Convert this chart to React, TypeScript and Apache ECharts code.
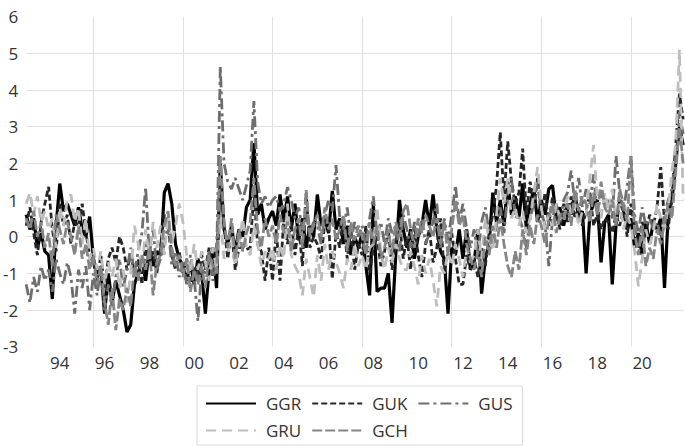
import React, { useEffect, useRef } from "react";
import * as echarts from "echarts";

// Two-month observations starting January 1993
const START_YEAR = 1993;
const STEP = 1 / 6;

const GGR = [
  0.6, 0.2, 0.5, -0.3, 0.1, -0.4,
  -0.5, -1.7, 0.3, 1.45, 0.7, 0.9,
  0.6, 0.3, 0.8, 0.2, 0.0, 0.55,
  -0.6, -1.0, -0.9, -2.1, -1.0, -1.8,
  -1.2, -1.6, -2.0, -2.6, -2.4, -1.3,
  -1.0, -0.6, -1.2, -0.3, -0.8, -0.4,
  -0.5, 1.2, 1.45, 0.9, -0.2, -0.6,
  -0.8, -1.2, -0.7, -1.3, -0.6, -1.0,
  -2.1, -0.9, -0.3, -1.4, 2.0, 0.2,
  -0.2, 0.3, -0.4, 0.2, 0.0, 0.8,
  1.0, 2.55, 0.6, 0.9, 0.2, 0.5,
  0.7, 0.3, 1.15, 0.4, 1.1, 0.2,
  0.9, -0.1, 0.5, -0.3, 0.3, 0.0,
  1.15, 0.3, 0.5, 0.1, 1.25, 0.2,
  0.5, -0.2, 0.3, -0.5, 0.0, -0.3,
  0.1, -0.8, -1.6, 0.9, -1.5, -1.4,
  -1.4, -1.0, -2.35, -0.5, 1.0, 0.2,
  -0.3, 0.2, -0.6, 0.0, 0.3, 1.0,
  0.3, 1.15, 0.2, -0.4, -0.6, -2.1,
  -0.3, -0.5, 0.2, -0.6, 0.2, -0.9,
  -0.7, 0.2, -1.55, -0.6, -0.2, 1.2,
  0.4, 1.0, 0.3, 1.5, 0.6, 1.1,
  0.5, 1.45, 0.2, 0.9, 1.3, 0.4,
  1.0, 0.6, 1.3, 1.4, 0.5, 0.8,
  0.3, 0.9, 0.6, 1.2, 0.5, 0.7,
  -1.0, 0.6, 0.9, 1.0, -0.7, 0.4,
  0.6, -1.3, 0.3, 1.0, 0.7, 0.2,
  0.5, -0.3, 0.1, -0.5, 0.4, -0.2,
  0.4, 0.2, 0.5, -1.4, 0.6, 1.0,
  2.0, 3.0, 2.5,
];

const GUK = [
  0.3, 0.8, 0.1, -0.5, 0.4, 0.9,
  1.36, 0.2, -0.4, 0.9, 0.3, 0.6,
  -0.2, 0.4, 0.3, 0.9, 0.1, -0.5,
  -0.7, -1.2, -0.5, -1.4, -0.6, -0.3,
  -0.7, 0.0, -0.3, -0.9, -0.5, -1.0,
  -0.6, -1.3, -0.2, -0.8, -0.4, -1.0,
  -0.3, 0.6, 0.3, -0.5, -0.9, -0.4,
  -1.0, -0.6, -1.4, -0.8, -1.2, -0.5,
  -0.9, -0.3, -1.1, -0.4, 1.6, 0.3,
  -0.6, 0.2, -0.9, -0.3, -0.3, -0.35,
  -0.3, 1.2, -0.2, -0.4, -1.2, -0.3,
  -1.2, 0.2, -1.2, 0.5, -0.2, 0.4,
  -0.5, 0.3, -0.8, 1.2, -0.3, 0.0,
  -0.2, -0.6, 0.4, 0.3, -1.15, 0.1,
  -0.3, 0.5, -0.6, 0.2, -0.9, -0.2,
  -0.5, 0.3, -1.0, -0.3, 0.0, -0.8,
  -0.4, 0.2, -0.9, -0.1, 0.4, -0.6,
  0.0, -0.9, 0.3, -0.5, -1.1, -0.2,
  0.2, -0.7, -0.3, 0.5, -1.0, -0.4,
  0.1, -0.6, -1.3, -1.3, -0.5, -0.9,
  -0.6, -1.1, -0.3, -0.8, 0.1, 0.6,
  1.4, 2.85, 1.0, 2.6, 1.5, 0.9,
  1.2, 2.4, 0.6, 1.5, 0.8, 1.6,
  0.5, 1.2, 0.3, 1.1, 0.6, 0.2,
  0.9, 0.4, 1.1, 0.5, 0.8, 0.3,
  0.7, 1.2, 0.3, 0.6, 0.2, 0.5,
  0.4, 0.1, 0.6, 0.3, 0.8, 0.0,
  0.9, 0.2, -0.3, 0.4, 0.1, 0.6,
  0.3, 0.8, 1.9, 0.4, 0.2, 1.2,
  2.5, 3.9, 3.2,
];

const GUS = [
  -1.3, -1.8, -1.1, -1.5, -0.8, -1.2,
  -0.9, -1.5, -0.6, -1.0, -1.3, -0.7,
  -1.1, -2.1, -0.9, -1.4, -0.8, -2.0,
  -1.0, -1.6, -0.8, -2.0, -1.3, -1.9,
  -1.1, -0.6, -1.4, -0.9, -0.3, -1.0,
  -0.4, 0.1, 1.35, -0.5, 0.2, -0.9,
  -0.6, -0.2, 0.3, -0.8, -0.4, -1.1,
  -0.7, -1.3, -0.5, -1.1, -2.3, -0.9,
  -1.0, -0.4, -1.2, -0.7, 4.65, 2.0,
  1.5, 1.3, 1.6, 1.3, 1.0, 1.4,
  1.8, 3.7, 1.5, 0.9, 1.1, 0.8,
  1.0, 1.1, 0.7, 0.9, 1.35, 1.0,
  0.5, 0.8, 0.2, 0.6, 0.1, 0.4,
  0.3, -0.2, 0.6, 1.0, 0.7, 1.95,
  0.5, 0.2, 0.8, -0.1, 0.4, 0.0,
  0.3, -0.3, 0.5, 1.1, 0.0, 0.4,
  -0.2, 0.5, 0.1, 0.3, -0.4, 0.6,
  0.2, -0.3, 0.4, 0.0, 0.5, -0.2,
  0.1, 0.4, 0.9, -0.3, 0.5, -0.1,
  0.6, 1.4, 0.4, 0.9, 0.2, -0.3,
  0.2, -0.5, 0.4, 0.8, 0.1, -0.2,
  0.3, 0.8, 0.1, 1.2, 1.6, 0.5,
  0.6, 0.2, -0.3, 0.5, 0.9, 1.5,
  0.7, 0.3, -0.8, 0.5, 0.9, 0.4,
  1.0, 1.2, 1.8, 0.9, 1.6, 0.8,
  1.3, 0.9, 1.7, 0.6, 1.2, 0.8,
  1.0, 0.5, 2.2, 1.2, 0.7, 1.4,
  2.2, 0.6, 0.1, 0.8, 0.3, 0.5,
  0.2, 0.4, 0.0, 0.6, 1.0, 1.3,
  2.2, 3.4, 2.8,
];

const GRU = [
  0.9, 1.2, 0.6, 1.1, 0.4, 0.7,
  0.2, 0.5, -0.3, 0.8, 0.3, 1.0,
  1.15, 0.4, 0.8, -0.2, 0.5, -0.6,
  -0.3, -0.9, -0.4, -1.3, -0.7, -1.1,
  -0.6, -1.4, -0.9, -1.8, -1.0, 0.3,
  -0.2, -0.9, 0.2, -0.6, 0.4, -0.3,
  0.3, -0.5, 0.6, -0.2, 0.3, 0.9,
  0.4, -0.5, -1.0, -0.2, -0.9, -0.4,
  -0.7, -1.2, -0.3, -0.9, 0.5, -0.6,
  -0.4, 0.0, -0.8, -0.2, 0.5, -0.3,
  -0.5, 0.3, -0.2, -0.8, -0.4, -0.6,
  -0.3, -0.9, -0.2, -0.6, 0.9, -0.5,
  -0.8, -1.0, -1.6, -0.6, -1.1, -1.65,
  -0.5, -1.2, -0.2, -0.9, -0.4, -0.7,
  -1.0, -1.4, -0.6, -0.9, -0.2, -0.8,
  -0.5, -0.9, -0.3, -0.2, 0.8, -0.4,
  -0.9, -0.3, -0.7, -0.2, -0.6, -0.9,
  -0.9, -0.4, -0.8, -1.3, -0.5, -1.0,
  -0.6, -1.2, -1.9, -0.8, -1.0, -0.4,
  -0.8, -0.2, -0.6, -1.1, -0.3, -0.7,
  -0.5, 0.2, -0.6, 0.5, -0.1, -0.4,
  0.6, 1.6, 0.9, 1.6, 0.5, 0.8,
  0.3, 0.7, 0.1, 0.5, 1.2, 1.9,
  0.8, 0.2, 0.6, 0.3, 0.9, 0.5,
  0.4, 1.1, 0.6, 0.9, 0.3, 0.7,
  0.6, 1.6, 2.5, 1.0, 0.5, 1.2,
  0.7, 1.3, 0.4, 0.9, 0.2, 0.6,
  0.3, -0.4, -1.35, -0.6, 0.2, -0.2,
  0.1, 0.9, 0.5, 0.2, 0.8, 1.8,
  2.5, 5.1, 1.0,
];

const GCH = [
  0.5, 0.2, 0.7, 0.0, 0.4, -0.3,
  0.1, -0.8, 0.6, 0.2, -0.2, 0.4,
  0.0, -0.5, 0.3, -0.6, -0.2, -0.9,
  -0.5, -1.3, -0.8, -1.8, -2.4, -1.4,
  -2.55, -1.7, -2.0, -1.4, -1.9, -0.8,
  -1.2, -0.5, -0.9, -0.3, -1.6, -0.7,
  -0.5, 0.3, 0.7, -0.3, -0.8, -0.5,
  -1.1, -0.6, -1.5, -0.9, -1.3, -0.8,
  -1.4, -0.5, -0.8, -1.0, 2.2, 0.4,
  -0.3, 0.5, -0.6, 0.2, -0.4, 0.1,
  0.4, 1.6, 0.2, -0.3, 0.5, 0.0,
  0.3, -0.2, 0.6, 0.1, 0.4, -0.4,
  0.2, 0.5, -0.3, 1.27, 0.0, 0.3,
  0.6, 0.0, 0.8, 0.2, 0.5, -0.1,
  0.2, 0.6, -0.4, 0.4, -0.1, 0.3,
  0.0, -0.5, 0.4, -0.2, 0.3, -0.6,
  -0.3, 0.2, -0.5, 0.4, 0.0, 0.7,
  0.9, 0.2, -0.3, 0.5, 0.1, 0.6,
  0.3, 0.0, 0.5, -0.2, 0.4, -0.5,
  0.2, 1.0, 0.3, 0.6, -0.2, -0.6,
  -0.9, -0.4, -1.1, 0.0, -0.5, 0.3,
  -0.3, 0.5, -0.2, -0.8, -1.1, -0.4,
  -0.9, 0.2, -0.5, 0.3, -0.2, 0.6,
  0.3, -0.2, 0.5, 0.9, 0.1, 0.6,
  0.5, 0.9, 0.3, 1.3, 0.7, 1.1,
  0.9, 0.4, 1.2, 0.6, 1.5, 0.8,
  0.6, 1.0, 0.3, 1.3, 0.9, 0.4,
  2.2, 0.1, -0.5, 0.3, -0.8, -0.3,
  -0.6, 0.2, -0.2, 0.4, 0.9, 0.5,
  1.8, 3.0, 2.0,
];

const SERIES_NAMES = ["GGR", "GUK", "GUS", "GRU", "GCH"];
const GRID_YEARS = [1996, 2000, 2004, 2008, 2012, 2016, 2020];
const LABEL_YEARS = [1994, 1996, 1998, 2000, 2002, 2004, 2006, 2008, 2010, 2012, 2014, 2016, 2018, 2020];
const LABEL_TEXTS = ["94", "96", "98", "00", "02", "04", "06", "08", "10", "12", "14", "16", "18", "20"];

const FONT = "'Open Sans', 'Noto Sans', sans-serif";
const TEXT_COLOR = "#333333";
const GRID_COLOR = "#e0e0e0";

const STYLES: Record<string, { color: string; width: number; type: any }> = {
  GGR: { color: "#000000", width: 3.2, type: "solid" },
  GUK: { color: "#262626", width: 2.8, type: [6, 3] },
  GUS: { color: "#6e6e6e", width: 2.8, type: [11, 4, 3, 4] },
  GRU: { color: "#bdbdbd", width: 2.8, type: [10, 6] },
  GCH: { color: "#858585", width: 2.8, type: [10, 3] },
};

const DATA: Record<string, number[]> = { GGR, GUK, GUS, GRU, GCH };

export default function App() {
  const ref = useRef<HTMLDivElement>(null);
  useEffect(() => {
    if (!ref.current) return;
    const chart = echarts.init(ref.current, undefined, { renderer: "svg" });
    const option: any = {
      animation: false,
      backgroundColor: "#ffffff",
      grid: { left: 25, right: 1, top: 16.7, bottom: 100.3, containLabel: false },
      xAxis: {
        type: "value",
        min: START_YEAR,
        max: 2022.37,
        axisLine: { show: false },
        axisTick: { show: false, customValues: GRID_YEARS },
        axisLabel: {
          customValues: LABEL_YEARS.map((y) => y + 0.5),
          formatter: (v: number) => LABEL_TEXTS[LABEL_YEARS.indexOf(Math.round(v - 0.5))] ?? "",
          fontSize: 17,
          fontFamily: FONT,
          color: TEXT_COLOR,
          margin: 7,
        },
        splitLine: { show: true, lineStyle: { color: GRID_COLOR, width: 1 } },
      },
      yAxis: {
        type: "value",
        min: -3,
        max: 6,
        interval: 1,
        axisLine: { show: false },
        axisTick: { show: false },
        axisLabel: { fontSize: 17, fontFamily: FONT, color: TEXT_COLOR, margin: 8 },
        splitLine: {
          show: true,
          showMinLine: false,
          showMaxLine: false,
          lineStyle: { color: GRID_COLOR, width: 1 },
        },
      },
      legend: {
        show: true,
        left: 197,
        top: 386,
        width: 325,
        orient: "horizontal",
        itemWidth: 50,
        itemHeight: 14,
        itemGap: 10,
        padding: [9, 10, 6, 8],
        borderColor: "#d9d9d9",
        borderWidth: 1,
        itemStyle: { opacity: 0, borderWidth: 0 },
        textStyle: { fontSize: 17, fontFamily: FONT, color: TEXT_COLOR, padding: [0, 0, 0, 5] },
        data: SERIES_NAMES.map((name) => ({ name, itemStyle: { opacity: 0, borderWidth: 0 } })),
      },
      series: SERIES_NAMES.map((name) => ({
        name,
        type: "line",
        showSymbol: false,
        symbol: "none",
        data: DATA[name].map((v, i) => [START_YEAR + i * STEP, v]),
        lineStyle: { color: STYLES[name].color, width: STYLES[name].width, type: STYLES[name].type },
        itemStyle: { color: STYLES[name].color },
        color: STYLES[name].color,
      })),
    };
    chart.setOption(option);
    return () => chart.dispose();
  }, []);
  return (
    <div
      ref={ref}
      style={{ position: "fixed", left: 0, top: 0, width: 685, height: 447, background: "#fff" }}
    />
  );
}
